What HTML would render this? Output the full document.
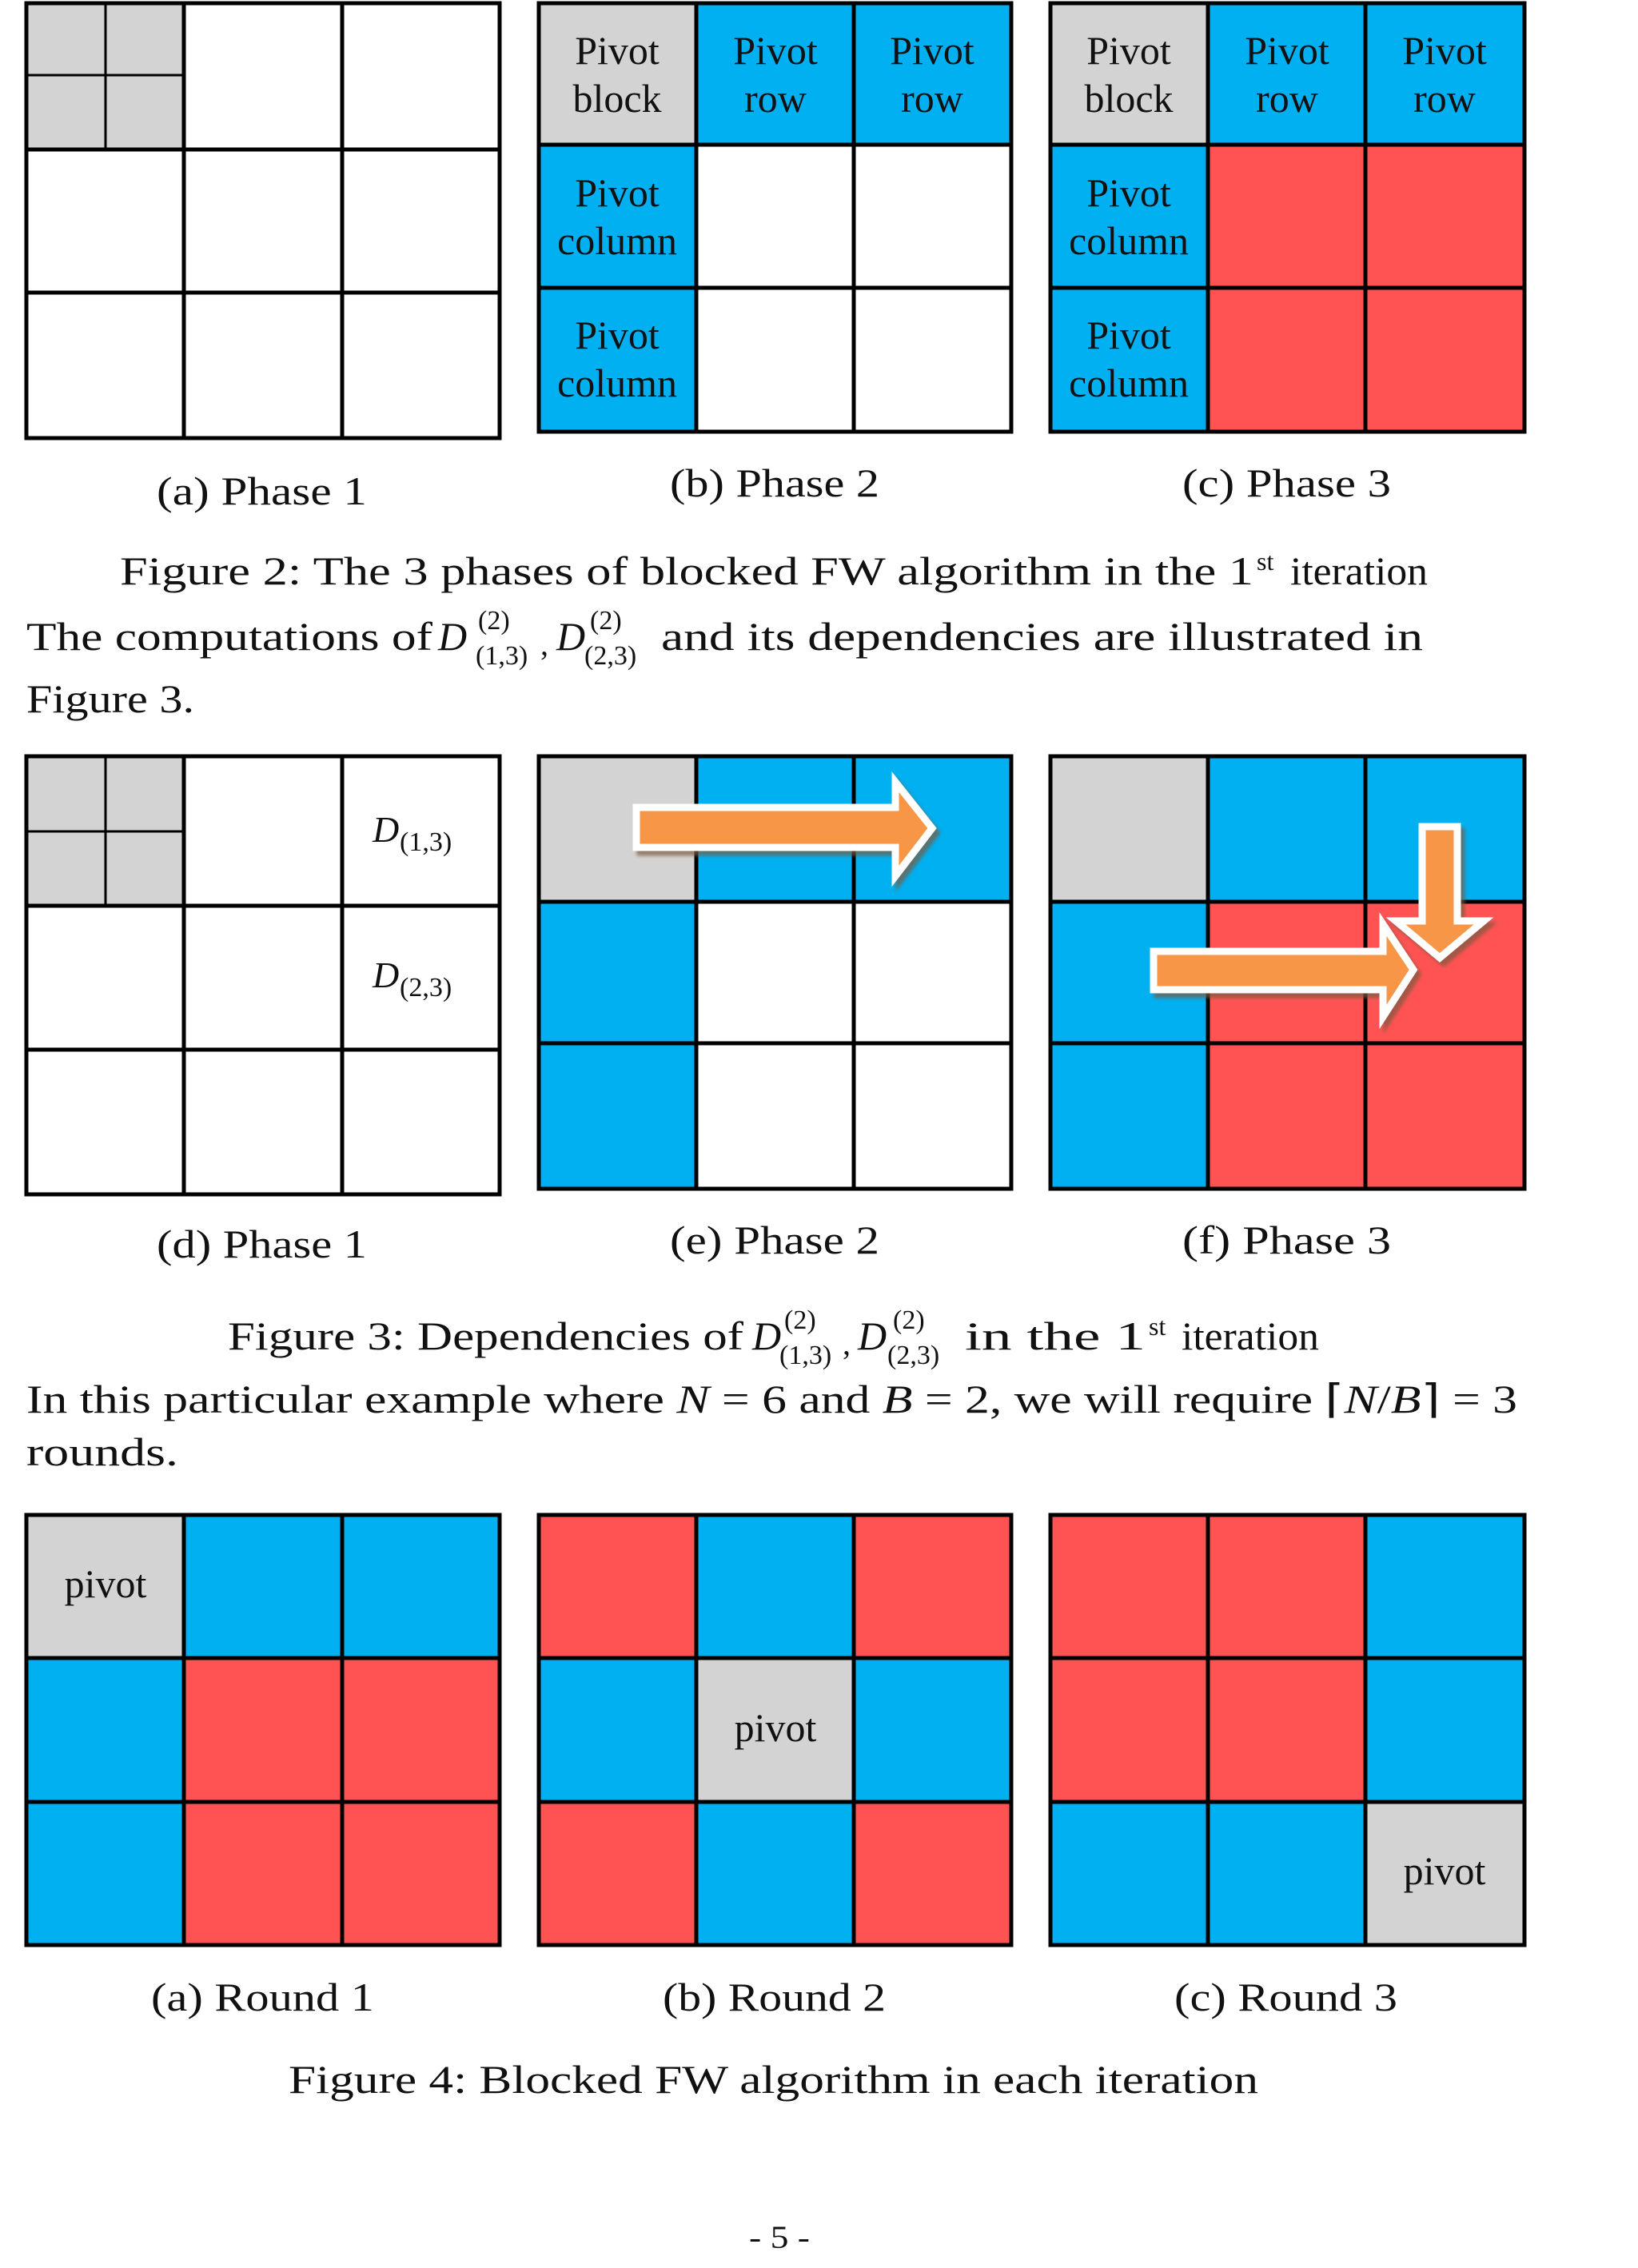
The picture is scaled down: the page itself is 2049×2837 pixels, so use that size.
<!DOCTYPE html>
<html><head><meta charset="utf-8"><style>
html,body{margin:0;padding:0;background:#fff;}
svg{display:block;}
text{font-family:"Liberation Serif",serif;fill:#111;}
</style></head><body>
<svg width="2049" height="2837" viewBox="0 0 2049 2837" xmlns="http://www.w3.org/2000/svg">
<defs>
<filter id="sh" x="-20%" y="-20%" width="140%" height="140%"><feDropShadow dx="5" dy="6" stdDeviation="2" flood-color="#7a5a40" flood-opacity="0.7"/></filter>
</defs>
<g stroke="#000" stroke-width="5">
<rect x="33" y="4" width="197" height="183" fill="#d3d3d3"/>
<rect x="230" y="4" width="395" height="544" fill="#fff"/>
<rect x="33" y="187" width="197" height="361" fill="#fff"/>
<line x1="132" y1="4" x2="132" y2="187" stroke-width="3"/>
<line x1="33" y1="94" x2="230" y2="94" stroke-width="3"/>
<path d="M33 4H625V548H33Z M230 4V548 M428 4V548 M33 187H625 M33 366H625" fill="none"/>
<rect x="674" y="4" width="197" height="177" fill="#d3d3d3"/>
<rect x="871" y="4" width="394" height="177" fill="#00b0f0"/>
<rect x="674" y="181" width="197" height="359" fill="#00b0f0"/>
<rect x="871" y="181" width="394" height="359" fill="#fff"/>
<path d="M674 4H1265V540H674Z M871 4V540 M1068 4V540 M674 181H1265 M674 360H1265" fill="none"/>
<rect x="1314" y="4" width="197" height="177" fill="#d3d3d3"/>
<rect x="1511" y="4" width="396" height="177" fill="#00b0f0"/>
<rect x="1314" y="181" width="197" height="359" fill="#00b0f0"/>
<rect x="1511" y="181" width="396" height="359" fill="#ff5353"/>
<path d="M1314 4H1907V540H1314Z M1511 4V540 M1708 4V540 M1314 181H1907 M1314 360H1907" fill="none"/>
<rect x="33" y="946" width="197" height="187" fill="#d3d3d3"/>
<rect x="230" y="946" width="395" height="548" fill="#fff"/>
<rect x="33" y="1133" width="197" height="361" fill="#fff"/>
<line x1="132" y1="946" x2="132" y2="1133" stroke-width="3"/>
<line x1="33" y1="1040" x2="230" y2="1040" stroke-width="3"/>
<path d="M33 946H625V1494H33Z M230 946V1494 M428 946V1494 M33 1133H625 M33 1313H625" fill="none"/>
<rect x="674" y="946" width="197" height="182" fill="#d3d3d3"/>
<rect x="871" y="946" width="394" height="182" fill="#00b0f0"/>
<rect x="674" y="1128" width="197" height="359" fill="#00b0f0"/>
<rect x="871" y="1128" width="394" height="359" fill="#fff"/>
<path d="M674 946H1265V1487H674Z M871 946V1487 M1068 946V1487 M674 1128H1265 M674 1305H1265" fill="none"/>
<rect x="1314" y="946" width="197" height="182" fill="#d3d3d3"/>
<rect x="1511" y="946" width="396" height="182" fill="#00b0f0"/>
<rect x="1314" y="1128" width="197" height="359" fill="#00b0f0"/>
<rect x="1511" y="1128" width="396" height="359" fill="#ff5353"/>
<path d="M1314 946H1907V1487H1314Z M1511 946V1487 M1708 946V1487 M1314 1128H1907 M1314 1305H1907" fill="none"/>
<rect x="33" y="1895" width="197" height="179" fill="#d3d3d3"/>
<rect x="230" y="1895" width="395" height="179" fill="#00b0f0"/>
<rect x="33" y="2074" width="197" height="359" fill="#00b0f0"/>
<rect x="230" y="2074" width="395" height="359" fill="#ff5353"/>
<path d="M33 1895H625V2433H33Z M230 1895V2433 M428 1895V2433 M33 2074H625 M33 2254H625" fill="none"/>
<rect x="674" y="1895" width="591" height="538" fill="#00b0f0"/>
<rect x="674" y="1895" width="197" height="179" fill="#ff5353"/>
<rect x="1068" y="1895" width="197" height="179" fill="#ff5353"/>
<rect x="674" y="2254" width="197" height="179" fill="#ff5353"/>
<rect x="1068" y="2254" width="197" height="179" fill="#ff5353"/>
<rect x="871" y="2074" width="197" height="180" fill="#d3d3d3"/>
<path d="M674 1895H1265V2433H674Z M871 1895V2433 M1068 1895V2433 M674 2074H1265 M674 2254H1265" fill="none"/>
<rect x="1314" y="1895" width="593" height="538" fill="#00b0f0"/>
<rect x="1314" y="1895" width="394" height="359" fill="#ff5353"/>
<rect x="1708" y="2254" width="199" height="179" fill="#d3d3d3"/>
<path d="M1314 1895H1907V2433H1314Z M1511 1895V2433 M1708 1895V2433 M1314 2074H1907 M1314 2254H1907" fill="none"/>
</g>
<g fill="#f79646" stroke="#fff" stroke-width="9" stroke-linejoin="miter" filter="url(#sh)">
<path d="M796 1010H1120V978L1166 1036L1120 1096V1060H796Z"/>
<path d="M1443 1190H1730V1156L1768 1213L1730 1272V1238H1443Z"/>
<path d="M1779 1034H1823V1152H1856L1801 1198L1746 1152H1779Z"/>
</g>
<g font-size="50" text-anchor="middle">
<text x="772" y="80">Pivot</text><text x="772" y="140">block</text>
<text x="970" y="80">Pivot</text><text x="970" y="140">row</text>
<text x="1166" y="80">Pivot</text><text x="1166" y="140">row</text>
<text x="772" y="258">Pivot</text><text x="772" y="318">column</text>
<text x="772" y="436">Pivot</text><text x="772" y="496">column</text>
<text x="1412" y="80">Pivot</text><text x="1412" y="140">block</text>
<text x="1610" y="80">Pivot</text><text x="1610" y="140">row</text>
<text x="1807" y="80">Pivot</text><text x="1807" y="140">row</text>
<text x="1412" y="258">Pivot</text><text x="1412" y="318">column</text>
<text x="1412" y="436">Pivot</text><text x="1412" y="496">column</text>
<text x="132" y="1998">pivot</text>
<text x="970" y="2178">pivot</text>
<text x="1807" y="2357">pivot</text>
</g>
<text x="466" y="1053" font-size="46" font-style="italic">D</text><text x="500" y="1064" font-size="34">(1,3)</text>
<text x="466" y="1235" font-size="46" font-style="italic">D</text><text x="500" y="1246" font-size="34">(2,3)</text>
<g font-size="50">
<text x="196" y="631" textLength="263" lengthAdjust="spacingAndGlyphs">(a) Phase 1</text>
<text x="838" y="621" textLength="262" lengthAdjust="spacingAndGlyphs">(b) Phase 2</text>
<text x="1479" y="621" textLength="261" lengthAdjust="spacingAndGlyphs">(c) Phase 3</text>
<text x="196" y="1573" textLength="263" lengthAdjust="spacingAndGlyphs">(d) Phase 1</text>
<text x="838" y="1568" textLength="262" lengthAdjust="spacingAndGlyphs">(e) Phase 2</text>
<text x="1479" y="1568" textLength="261" lengthAdjust="spacingAndGlyphs">(f) Phase 3</text>
<text x="189" y="2515" textLength="279" lengthAdjust="spacingAndGlyphs">(a) Round 1</text>
<text x="829" y="2515" textLength="279" lengthAdjust="spacingAndGlyphs">(b) Round 2</text>
<text x="1469" y="2515" textLength="279" lengthAdjust="spacingAndGlyphs">(c) Round 3</text>

<text x="150" y="731" textLength="1418" lengthAdjust="spacingAndGlyphs">Figure 2: The 3 phases of blocked FW algorithm in the 1</text>
<text x="1572" y="713" font-size="32">st</text>
<text x="1614" y="731" textLength="172" lengthAdjust="spacingAndGlyphs">iteration</text>

<text x="33" y="813" textLength="508" lengthAdjust="spacingAndGlyphs">The computations of</text>
<text x="548" y="813" font-style="italic">D</text>
<text x="598" y="787" font-size="34">(2)</text>
<text x="595" y="831" font-size="34">(1,3)</text>
<text x="676" y="819" font-size="40">,</text>
<text x="696" y="813" font-style="italic">D</text>
<text x="738" y="787" font-size="34">(2)</text>
<text x="731" y="831" font-size="34">(2,3)</text>
<text x="827" y="813" textLength="953" lengthAdjust="spacingAndGlyphs">and its dependencies are illustrated in</text>
<text x="33" y="891" textLength="210" lengthAdjust="spacingAndGlyphs">Figure 3.</text>

<text x="285" y="1688" textLength="645" lengthAdjust="spacingAndGlyphs">Figure 3: Dependencies of</text>
<text x="941" y="1688" font-style="italic">D</text>
<text x="981" y="1662" font-size="34">(2)</text>
<text x="975" y="1706" font-size="34">(1,3)</text>
<text x="1054" y="1694" font-size="40">,</text>
<text x="1073" y="1688" font-style="italic">D</text>
<text x="1117" y="1662" font-size="34">(2)</text>
<text x="1110" y="1706" font-size="34">(2,3)</text>
<text x="1207" y="1688" textLength="226" lengthAdjust="spacingAndGlyphs">in the 1</text>
<text x="1437" y="1670" font-size="32">st</text>
<text x="1478" y="1688" textLength="172" lengthAdjust="spacingAndGlyphs">iteration</text>

<text x="33" y="1767" textLength="1865" lengthAdjust="spacingAndGlyphs">In this particular example where <tspan font-style="italic">N</tspan> = 6 and <tspan font-style="italic">B</tspan> = 2, we will require ⌈<tspan font-style="italic">N</tspan>/<tspan font-style="italic">B</tspan>⌉ = 3</text>
<text x="33" y="1833" textLength="190" lengthAdjust="spacingAndGlyphs">rounds.</text>

<text x="361" y="2618" textLength="1213" lengthAdjust="spacingAndGlyphs">Figure 4: Blocked FW algorithm in each iteration</text>
<text x="937" y="2812" font-size="40" textLength="76" lengthAdjust="spacingAndGlyphs">- 5 -</text>
</g>
</svg>
</body></html>
